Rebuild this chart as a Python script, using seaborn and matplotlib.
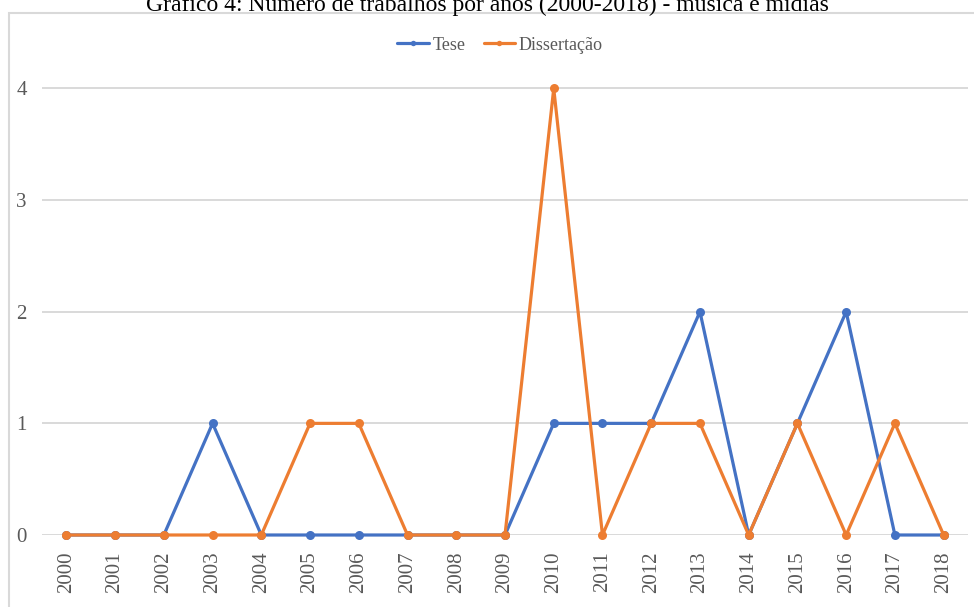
import matplotlib
matplotlib.use("Agg")
import matplotlib.pyplot as plt
from matplotlib.patches import Rectangle
import seaborn as sns
import pandas as pd

# Number of works per year, 2000-2018
years = list(range(2000, 2019))
tese = [0, 0, 0, 1, 0, 0, 0, 0, 0, 0, 1, 1, 1, 2, 0, 1, 2, 0, 0]
dissertacao = [0, 0, 0, 0, 0, 1, 1, 0, 0, 0, 4, 0, 1, 1, 0, 1, 0, 1, 0]
series_names = ["Tese", "Dissertação"]
colors = ["#4472C4", "#ED7D31"]
yticks = [0, 1, 2, 3, 4]
title = "Gráfico 4: Número de trabalhos por anos (2000-2018) - música e mídias"

df = pd.DataFrame({
    "ano": years * 2,
    "valor": tese + dissertacao,
    "tipo": [series_names[0]] * len(years) + [series_names[1]] * len(years),
})

sns.set_theme(style="white")
plt.rcParams["font.family"] = ["Liberation Serif", "DejaVu Serif"]

W, H = 974, 607
fig = plt.figure(figsize=(W / 100, H / 100), dpi=100)
ax = fig.add_axes([42 / W, 1 - 535 / H, 926 / W, (535 - 55) / H])

sns.lineplot(data=df, x="ano", y="valor", hue="tipo", hue_order=series_names,
             palette=colors, marker="o", markersize=6.5, markeredgewidth=0,
             linewidth=2.3, ax=ax, legend=True)
for ln in ax.lines:
    ln.set_clip_on(False)

ax.set_xlim(years[0] - 0.5, years[-1] + 0.5)
ax.set_ylim(0, 4.3)
ax.set_xticks(years)
ax.set_xticklabels([str(y) for y in years], rotation=90, color="#595959", fontsize=15)
ax.set_yticks(yticks)
ax.set_yticklabels([str(v) for v in yticks], color="#595959", fontsize=15)
ax.tick_params(axis="x", length=0, pad=12)
ax.tick_params(axis="y", length=0, pad=11)
ax.set_xlabel("")
ax.set_ylabel("")
ax.yaxis.grid(True, color="#d9d9d9", linewidth=1.4)
ax.set_axisbelow(True)
for s in ax.spines.values():
    s.set_visible(False)

handles, labels = ax.get_legend_handles_labels()
ax.legend(handles, labels, loc="center", bbox_to_anchor=(500 / W, 1 - 45 / H),
          bbox_transform=fig.transFigure, ncol=2, frameon=False, fontsize=13,
          handlelength=1.75, handletextpad=0.2, columnspacing=1.0, markerscale=0.6,
          labelcolor="#595959")

# chart frame
fig.add_artist(Rectangle((9 / W, -0.05), 1.1, 1 - 13 / H + 0.05,
                         transform=fig.transFigure, fill=False,
                         edgecolor="#d9d9d9", linewidth=1.5))

fig.text(0.5, 1 - 11 / H, title, ha="center", va="baseline", fontsize=17, color="black")

fig.savefig("out.png", dpi=100, facecolor="white")
